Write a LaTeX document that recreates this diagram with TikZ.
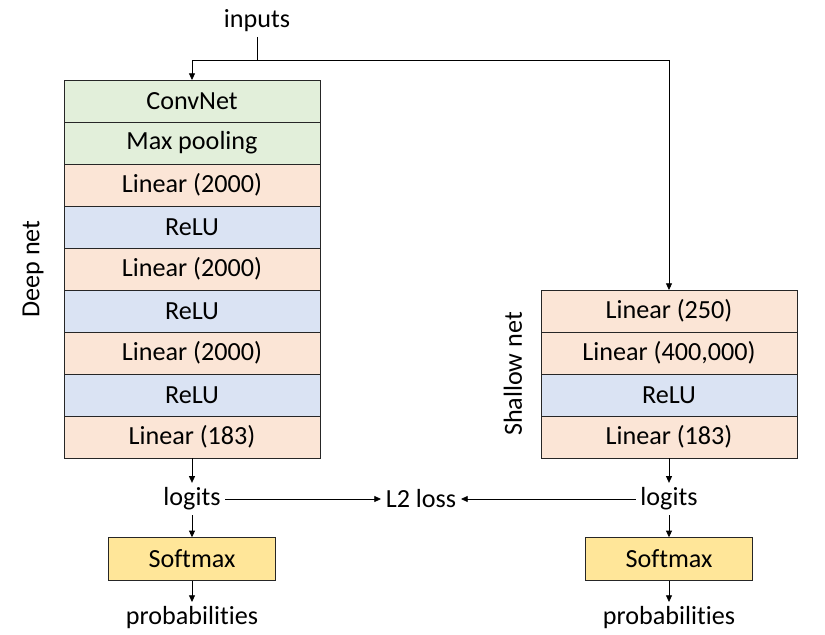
\documentclass[tikz,border=0pt]{standalone}
\usepackage{fontspec}
\setmainfont{Carlito}[Ligatures=NoCommon]
\usepackage{xcolor}
\usetikzlibrary{positioning,calc,arrows.meta}

\definecolor{convgreen}{HTML}{E2EFDA}
\definecolor{linpeach}{HTML}{FBE5D6}
\definecolor{relublue}{HTML}{DAE3F3}
\definecolor{softyellow}{HTML}{FFE699}

\begin{document}
\begin{tikzpicture}[->,>={Triangle[length=5pt,width=4.5pt]},x=0.75pt,y=-0.75pt,
			line width=0.6pt,font=\fontsize{19.6}{22}\selectfont,
			layer/.style={draw=black!85, rectangle, minimum width=192pt, minimum height=31.5pt, inner sep=0pt, outer sep=0pt, anchor=north},
			conv/.style={layer, fill=convgreen},
			lin/.style={layer, fill=linpeach},
			relu/.style={layer, fill=relublue},
			soft/.style={draw=black!85, rectangle, fill=softyellow, minimum width=125pt, minimum height=32pt, inner sep=0pt}]

			\useasboundingbox (0,0) rectangle (825,635);

			\node (inputs) at (257,21) {inputs};
			\coordinate (split) at (257,60);

			% deep net
			\node[conv] (d1) at (192,80) {ConvNet};
			\node[conv] (d2) at (d1.south) {Max pooling};
			\node[lin] (d3) at (d2.south) {Linear (2000)};
			\node[relu] (d4) at (d3.south) {ReLU};
			\node[lin] (d5) at (d4.south) {Linear (2000)};
			\node[relu] (d6) at (d5.south) {ReLU};
			\node[lin] (d7) at (d6.south) {Linear (2000)};
			\node[relu] (d8) at (d7.south) {ReLU};
			\node[lin] (d9) at (d8.south) {Linear (183)};
			\node[rotate=90] (deeplab) at (33,269) {Deep net};

			% shallow net
			\node[lin] (s1) at (669,290) {Linear (250)};
			\node[lin] (s2) at (s1.south) {Linear (400,000)};
			\node[relu] (s3) at (s2.south) {ReLU};
			\node[lin] (s4) at (s3.south) {Linear (183)};
			\node[rotate=90] (shallowlab) at (513,374) {Shallow net};

			% outputs
			\node (logitsL) at (192,499) {logits};
			\node (logitsR) at (669,499) {logits};
			\node (loss) at (421,499) {L2 loss};
			\node[soft] (softL) at (192,559) {Softmax};
			\node[soft] (softR) at (669,559) {Softmax};
			\node (probL) at (192,618) {probabilities};
			\node (probR) at (669,618) {probabilities};

			\draw[-] (inputs.south) -- (split);
			\draw (split) -| (d1.north);
			\draw (split) -| (s1.north);

			\draw (d9.south) -- (logitsL.north);
			\draw (s4.south) -- (logitsR.north);
			\draw (logitsL.east) -- (loss.west);
			\draw (logitsR.west) -- (loss.east);
			\draw (logitsL.south) -- (softL.north);
			\draw (logitsR.south) -- (softR.north);
			\draw (softL.south) -- (probL.north);
			\draw (softR.south) -- (probR.north);

		\end{tikzpicture}
\end{document}
